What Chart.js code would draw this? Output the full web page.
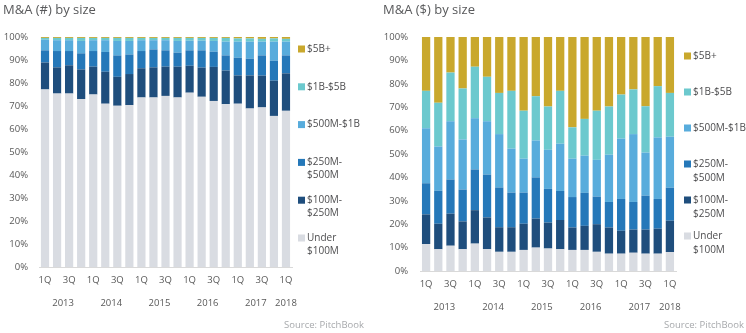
<!DOCTYPE html>
<html>
<head>
<meta charset="utf-8">
<script src="https://cdn.jsdelivr.net/npm/chart.js@4/dist/chart.umd.min.js"></script>
<style>
    body { margin: 0; width: 746px; height: 333px; background: #fff; overflow: hidden; font-family: "Open Sans", sans-serif; }
    .panel { position: absolute; top: 0; width: 373px; height: 333px; }
    .panel canvas { position: absolute; left: 0; top: 0; }
    .titulo { position: absolute; top: 0; font-size: 13px; color: #58595b; white-space: nowrap; }
    .fuente { position: absolute; top: 318px; font-size: 9.5px; color: #a7a9ac; white-space: nowrap; }
</style>
</head>
<body>
<div class="panel" style="left:0">
    <canvas id="graficoCantidad" width="373" height="333"></canvas>
    <div class="titulo" style="left:3px">M&amp;A (#) by size</div>
    <div class="fuente" style="right:9px">Source: PitchBook</div>
</div>
<div class="panel" style="left:373px">
    <canvas id="graficoMonto" width="373" height="333"></canvas>
    <div class="titulo" style="left:10px">M&amp;A ($) by size</div>
    <div class="fuente" style="right:2px">Source: PitchBook</div>
</div>
<script>
// Trimestres 1Q 2013 - 1Q 2018
const trimestres = ['1Q', '2Q', '3Q', '4Q', '1Q', '2Q', '3Q', '4Q', '1Q', '2Q', '3Q', '4Q',
    '1Q', '2Q', '3Q', '4Q', '1Q', '2Q', '3Q', '4Q', '1Q'];
const anios = ['2013', '2014', '2015', '2016', '2017', '2018'];
const primerIndiceAnio = [0, 4, 8, 12, 16, 20];
const ultimoIndiceAnio = [3, 7, 11, 15, 19, 20];

// Rangos de tamaño, de abajo hacia arriba en la pila
const rangos = ['Under $100M', '$100M-$250M', '$250M-$500M', '$500M-$1B', '$1B-$5B', '$5B+'];
const rangosLeyenda = [['Under', '$100M'], ['$100M-', '$250M'], ['$250M-', '$500M'], ['$500M-$1B'], ['$1B-$5B'], ['$5B+']];
const colores = ['#d9dce2', '#1f4e7d', '#2578b9', '#58acdc', '#6cc9ce', '#c9a82d'];

// Porcentaje de operaciones (#) por rango
const cantidadUnder100M = [77.2, 75.4, 75.4, 73.0, 75.0, 71.0, 70.1, 70.4, 73.7, 73.7, 74.4, 73.7, 75.8, 74.0, 72.2, 70.8, 71.0, 68.9, 69.4, 65.7, 67.9];
const cantidad100a250M = [11.7, 11.4, 12.3, 12.9, 12.1, 13.9, 12.6, 13.5, 12.7, 13.1, 12.7, 13.4, 11.7, 12.7, 14.8, 14.6, 12.3, 14.4, 13.8, 15.3, 16.3];
const cantidad250a500M = [5.3, 7.1, 6.2, 7.0, 6.8, 8.6, 9.3, 8.5, 7.5, 7.8, 7.1, 6.1, 6.7, 7.5, 6.6, 6.6, 7.7, 7.3, 8.8, 8.7, 7.8];
const cantidad500Ma1B = [4.6, 4.7, 4.7, 5.4, 4.7, 5.1, 6.3, 5.9, 4.7, 4.0, 4.4, 5.1, 4.2, 4.2, 4.7, 6.0, 7.0, 7.4, 6.0, 8.3, 6.0];
const cantidad1a5B = [0.8, 1.0, 1.0, 1.3, 1.0, 1.0, 1.3, 1.3, 1.0, 1.0, 1.0, 1.3, 1.2, 1.2, 1.3, 1.6, 1.4, 1.4, 1.2, 1.4, 1.2];
const cantidad5BMas = [0.4, 0.4, 0.4, 0.4, 0.4, 0.4, 0.4, 0.4, 0.4, 0.4, 0.4, 0.4, 0.4, 0.4, 0.4, 0.4, 0.6, 0.6, 0.8, 0.6, 0.8];

// Porcentaje del valor total ($) por rango
const montoUnder100M = [11.5, 9.3, 10.8, 9.3, 11.7, 9.3, 8.2, 8.2, 9.0, 10.0, 9.6, 9.3, 9.0, 9.0, 8.2, 7.4, 7.4, 7.8, 7.4, 7.4, 8.1];
const monto100a250M = [12.7, 10.9, 13.7, 11.9, 14.3, 13.6, 10.5, 10.5, 11.2, 12.4, 11.1, 12.5, 9.6, 10.3, 11.8, 11.2, 9.8, 9.9, 10.3, 10.7, 13.4];
const monto250a500M = [13.3, 14.1, 14.6, 13.6, 17.4, 18.3, 17.0, 14.8, 13.3, 17.6, 14.4, 12.4, 13.0, 14.1, 11.8, 10.9, 13.6, 11.8, 14.5, 12.7, 14.1];
const monto500Ma1B = [23.5, 18.9, 24.9, 21.4, 21.9, 22.8, 22.8, 18.8, 14.5, 15.8, 16.7, 20.2, 16.4, 15.9, 15.7, 20.2, 25.8, 29.0, 18.4, 26.3, 21.8];
const monto1a5B = [16.0, 18.7, 20.8, 21.8, 22.0, 19.0, 17.6, 24.7, 20.5, 18.9, 18.5, 22.6, 13.4, 15.7, 21.0, 20.6, 18.8, 19.1, 19.8, 21.9, 18.7];
const monto5BMas = [23.0, 28.1, 15.2, 22.0, 12.7, 17.0, 23.9, 23.0, 31.5, 25.3, 29.7, 23.0, 38.6, 35.0, 31.5, 29.7, 24.6, 22.4, 29.6, 21.0, 23.9];

const fuente = '"Open Sans", sans-serif';
const colorTexto = '#595959';

// Años debajo de los trimestres, centrados en su grupo de barras
const pluginAnios = {
    id: 'anios',
    afterDraw(chart) {
        const ctx = chart.ctx;
        const x = chart.scales.x;
        ctx.save();
        ctx.font = '9.5px ' + fuente;
        ctx.fillStyle = colorTexto;
        ctx.textAlign = 'center';
        ctx.textBaseline = 'middle';
        anios.forEach((anio, i) => {
            const centro = (x.getPixelForValue(primerIndiceAnio[i]) + x.getPixelForValue(ultimoIndiceAnio[i])) / 2;
            ctx.fillText(anio, centro, chart.chartArea.bottom + 36);
        });
        ctx.restore();
    }
};

// Leyenda a la derecha, con etiquetas de dos líneas
const pluginLeyenda = {
    id: 'leyendaRangos',
    afterDraw(chart, args, opts) {
        const ctx = chart.ctx;
        const x0 = chart.chartArea.right + opts.separacion;
        ctx.save();
        ctx.font = '10px ' + fuente;
        ctx.textBaseline = 'middle';
        ctx.textAlign = 'left';
        for (let i = rangos.length - 1, fila = 0; i >= 0; i--, fila++) {
            const y = opts.inicio + fila * opts.paso;
            ctx.fillStyle = colores[i];
            ctx.fillRect(x0, y - 3.5, 7, 7);
            ctx.fillStyle = '#4d4d4f';
            rangosLeyenda[i].forEach((linea, j) => ctx.fillText(linea, x0 + 9, y + j * opts.interlineado));
        }
        ctx.restore();
    }
};

function crearGrafico(canvasId, series, area, leyenda) {
    const ctx = document.getElementById(canvasId).getContext('2d');

    return new Chart(ctx, {
        type: 'bar',
        data: {
            labels: trimestres,
            datasets: series.map((valores, i) => ({
                label: rangos[i],
                data: valores,
                backgroundColor: colores[i],
                borderWidth: 0,
                barPercentage: 0.68,
                categoryPercentage: 1
            }))
        },
        options: {
            responsive: false,
            animation: false,
            layout: { padding: { left: 0, top: area.top, right: area.right, bottom: 0 } },
            plugins: {
                legend: { display: false },
                tooltip: { enabled: false },
                leyendaRangos: leyenda
            },
            scales: {
                x: {
                    stacked: true,
                    grid: { display: false, drawTicks: false },
                    border: { display: true, color: '#d9d9d9', width: 1 },
                    ticks: {
                        autoSkip: false,
                        maxRotation: 0,
                        padding: 8,
                        color: colorTexto,
                        font: { family: fuente, size: 9.5 },
                        callback: function (valor, indice) {
                            return indice % 2 === 0 ? this.getLabelForValue(valor) : '';
                        }
                    },
                    afterFit: scale => { scale.height = area.alturaX; }
                },
                y: {
                    stacked: true,
                    min: 0,
                    max: 100,
                    grid: { display: false, drawTicks: false },
                    border: { display: false },
                    ticks: {
                        stepSize: 10,
                        padding: area.paddingY,
                        color: colorTexto,
                        font: { family: fuente, size: 9.5 },
                        callback: valor => valor + '%'
                    },
                    afterFit: scale => { scale.width = area.anchoY; }
                }
            }
        },
        plugins: [pluginAnios, pluginLeyenda]
    });
}

crearGrafico(
    'graficoCantidad',
    [cantidadUnder100M, cantidad100a250M, cantidad250a500M, cantidad500Ma1B, cantidad1a5B, cantidad5BMas],
    { top: 37, right: 81, anchoY: 39, alturaX: 66, paddingY: 11 },
    { separacion: 6, inicio: 49, paso: 37.8, interlineado: 13 }
);

crearGrafico(
    'graficoMonto',
    [montoUnder100M, monto100a250M, monto250a500M, monto500Ma1B, monto1a5B, monto5BMas],
    { top: 37, right: 70, anchoY: 47, alturaX: 62, paddingY: 12 },
    { separacion: 8, inicio: 56, paso: 36, interlineado: 14 }
);
</script>
</body>
</html>
